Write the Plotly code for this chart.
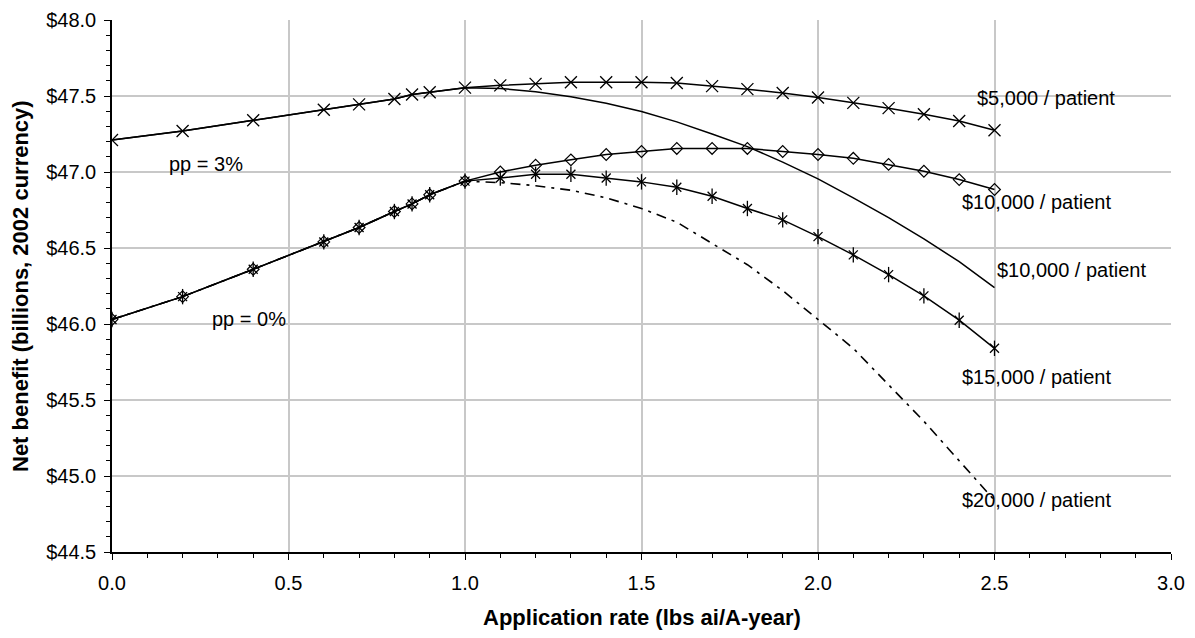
import plotly.graph_objects as go

# ---- data ----
x_full = [0.0, 0.2, 0.4, 0.6, 0.7, 0.8, 0.85, 0.9, 1.0, 1.1, 1.2, 1.3, 1.4, 1.5,
          1.6, 1.7, 1.8, 1.9, 2.0, 2.1, 2.2, 2.3, 2.4, 2.5]

# pp = 3%
y_pp3_5000 = [47.21, 47.27, 47.34, 47.41, 47.445, 47.48, 47.51, 47.525, 47.555, 47.57,
              47.58, 47.59, 47.59, 47.59, 47.585, 47.565, 47.545, 47.52, 47.49, 47.455,
              47.42, 47.38, 47.335, 47.275]
y_pp3_10000 = [47.21, 47.27, 47.34, 47.41, 47.445, 47.48, 47.51, 47.525, 47.555, 47.55,
               47.528, 47.495, 47.452, 47.398, 47.33, 47.25, 47.167, 47.065, 46.955, 46.83,
               46.70, 46.56, 46.41, 46.24]

# pp = 0%
y_pp0_10000 = [46.03, 46.18, 46.36, 46.54, 46.635, 46.74, 46.79, 46.85, 46.94, 47.0,
               47.045, 47.08, 47.115, 47.135, 47.155, 47.155, 47.155, 47.135, 47.115, 47.09,
               47.05, 47.005, 46.95, 46.885]
y_pp0_15000 = [46.03, 46.18, 46.36, 46.54, 46.635, 46.74, 46.79, 46.85, 46.94, 46.96,
               46.985, 46.985, 46.96, 46.935, 46.90, 46.84, 46.76, 46.685, 46.575, 46.455,
               46.325, 46.185, 46.025, 45.84]
y_pp0_20000 = [46.03, 46.18, 46.36, 46.54, 46.635, 46.74, 46.79, 46.85, 46.94, 46.93,
               46.91, 46.88, 46.83, 46.76, 46.67, 46.53, 46.39, 46.22, 46.03, 45.84,
               45.60, 45.36, 45.10, 44.84]

label_texts = ["$5,000 / patient", "$10,000 / patient", "$10,000 / patient",
               "$15,000 / patient", "$20,000 / patient", "pp = 3%", "pp = 0%"]
label_x = [2.647, 2.62, 2.718, 2.62, 2.62, 0.265, 0.387]
label_y = [47.49, 46.80, 46.357, 45.653, 44.845, 47.055, 46.03]

x_ticks = [0.0, 0.5, 1.0, 1.5, 2.0, 2.5, 3.0]
y_ticks = [44.5, 45.0, 45.5, 46.0, 46.5, 47.0, 47.5, 48.0]
x_ticktext = [f"{v:.1f}" for v in x_ticks]
y_ticktext = [f"${v:.1f}" for v in y_ticks]

x_title = "Application rate (lbs ai/A-year)"
y_title = "Net benefit (billions, 2002 currency)"

FONT = "Liberation Sans, Arial, sans-serif"
BLACK = "#000000"

fig = go.Figure()

# dash-dot $20,000 (pp 0%)
fig.add_trace(go.Scatter(x=x_full, y=y_pp0_20000, mode="lines",
                         line=dict(color=BLACK, width=1.6, dash="10px,6px,3px,6px"),
                         showlegend=False, hoverinfo="skip"))
# solid $10,000 (pp 3%) no markers
fig.add_trace(go.Scatter(x=x_full, y=y_pp3_10000, mode="lines",
                         line=dict(color=BLACK, width=1.5),
                         showlegend=False))
# $5,000 pp 3% with x markers
fig.add_trace(go.Scatter(x=x_full, y=y_pp3_5000, mode="lines+markers",
                         line=dict(color=BLACK, width=1.5),
                         marker=dict(symbol="x-thin-open", size=12, color=BLACK,
                                     line=dict(color=BLACK, width=1.3)),
                         showlegend=False))
# $10,000 pp 0% diamonds
fig.add_trace(go.Scatter(x=x_full, y=y_pp0_10000, mode="lines+markers",
                         line=dict(color=BLACK, width=1.5),
                         marker=dict(symbol="diamond-open", size=9, color=BLACK,
                                     line=dict(color=BLACK, width=1.2)),
                         showlegend=False))
# $15,000 pp 0% star markers (x + vertical bar)
fig.add_trace(go.Scatter(x=x_full, y=y_pp0_15000, mode="lines+markers",
                         line=dict(color=BLACK, width=1.5),
                         marker=dict(symbol="x-thin-open", size=9, color=BLACK,
                                     line=dict(color=BLACK, width=1.3)),
                         showlegend=False))
fig.add_trace(go.Scatter(x=x_full, y=y_pp0_15000, mode="markers",
                         marker=dict(symbol="line-ns-open", size=11, color=BLACK,
                                     line=dict(color=BLACK, width=1.3)),
                         showlegend=False))

for t, xx, yy in zip(label_texts, label_x, label_y):
    fig.add_annotation(x=xx, y=yy, xref="x", yref="y", text=t, showarrow=False,
                       font=dict(family=FONT, size=20, color=BLACK))

# axis titles
fig.add_annotation(x=0.5, y=0, xref="paper", yref="paper", yshift=-65,
                   xanchor="center", yanchor="middle",
                   text=f"<b>{x_title}</b>", showarrow=False,
                   font=dict(family=FONT, size=22, color=BLACK))
fig.add_annotation(x=0, y=0.5, xref="paper", yref="paper", xshift=-92,
                   xanchor="center", yanchor="middle",
                   text=f"<b>{y_title}</b>", showarrow=False, textangle=-90,
                   font=dict(family=FONT, size=22, color=BLACK))

axis_common = dict(
    showgrid=True, gridcolor="#c8c8c8", gridwidth=1.5,
    showline=True, linecolor=BLACK, linewidth=1.5,
    ticks="outside", ticklen=6, tickwidth=1.3, tickcolor=BLACK,
    zeroline=False, automargin=False, ticklabeloverflow="allow",
    tickfont=dict(family=FONT, size=20, color=BLACK),
)

fig.update_xaxes(range=[0, 3], tickmode="array", tickvals=x_ticks, ticktext=x_ticktext,
                 ticklabelstandoff=6,
                 minor=dict(dtick=0.1, tick0=0, ticks="outside", ticklen=4, tickcolor=BLACK, showgrid=False),
                 **axis_common)
fig.update_yaxes(range=[44.5, 48.0], tickmode="array", tickvals=y_ticks, ticktext=y_ticktext,
                 ticklabelstandoff=4,
                 minor=dict(dtick=0.1, tick0=44.5, ticks="outside", ticklen=4, tickcolor=BLACK, showgrid=False),
                 **axis_common)

# page body has an 8px margin, so the figure is sized to fit the 1195x638 window
fig.update_layout(
    width=1187, height=630,
    margin=dict(l=104, r=24, t=12, b=86),
    plot_bgcolor="white", paper_bgcolor="white",
    font=dict(family=FONT, color=BLACK),
    showlegend=False,
)

fig.write_html("out.html")
